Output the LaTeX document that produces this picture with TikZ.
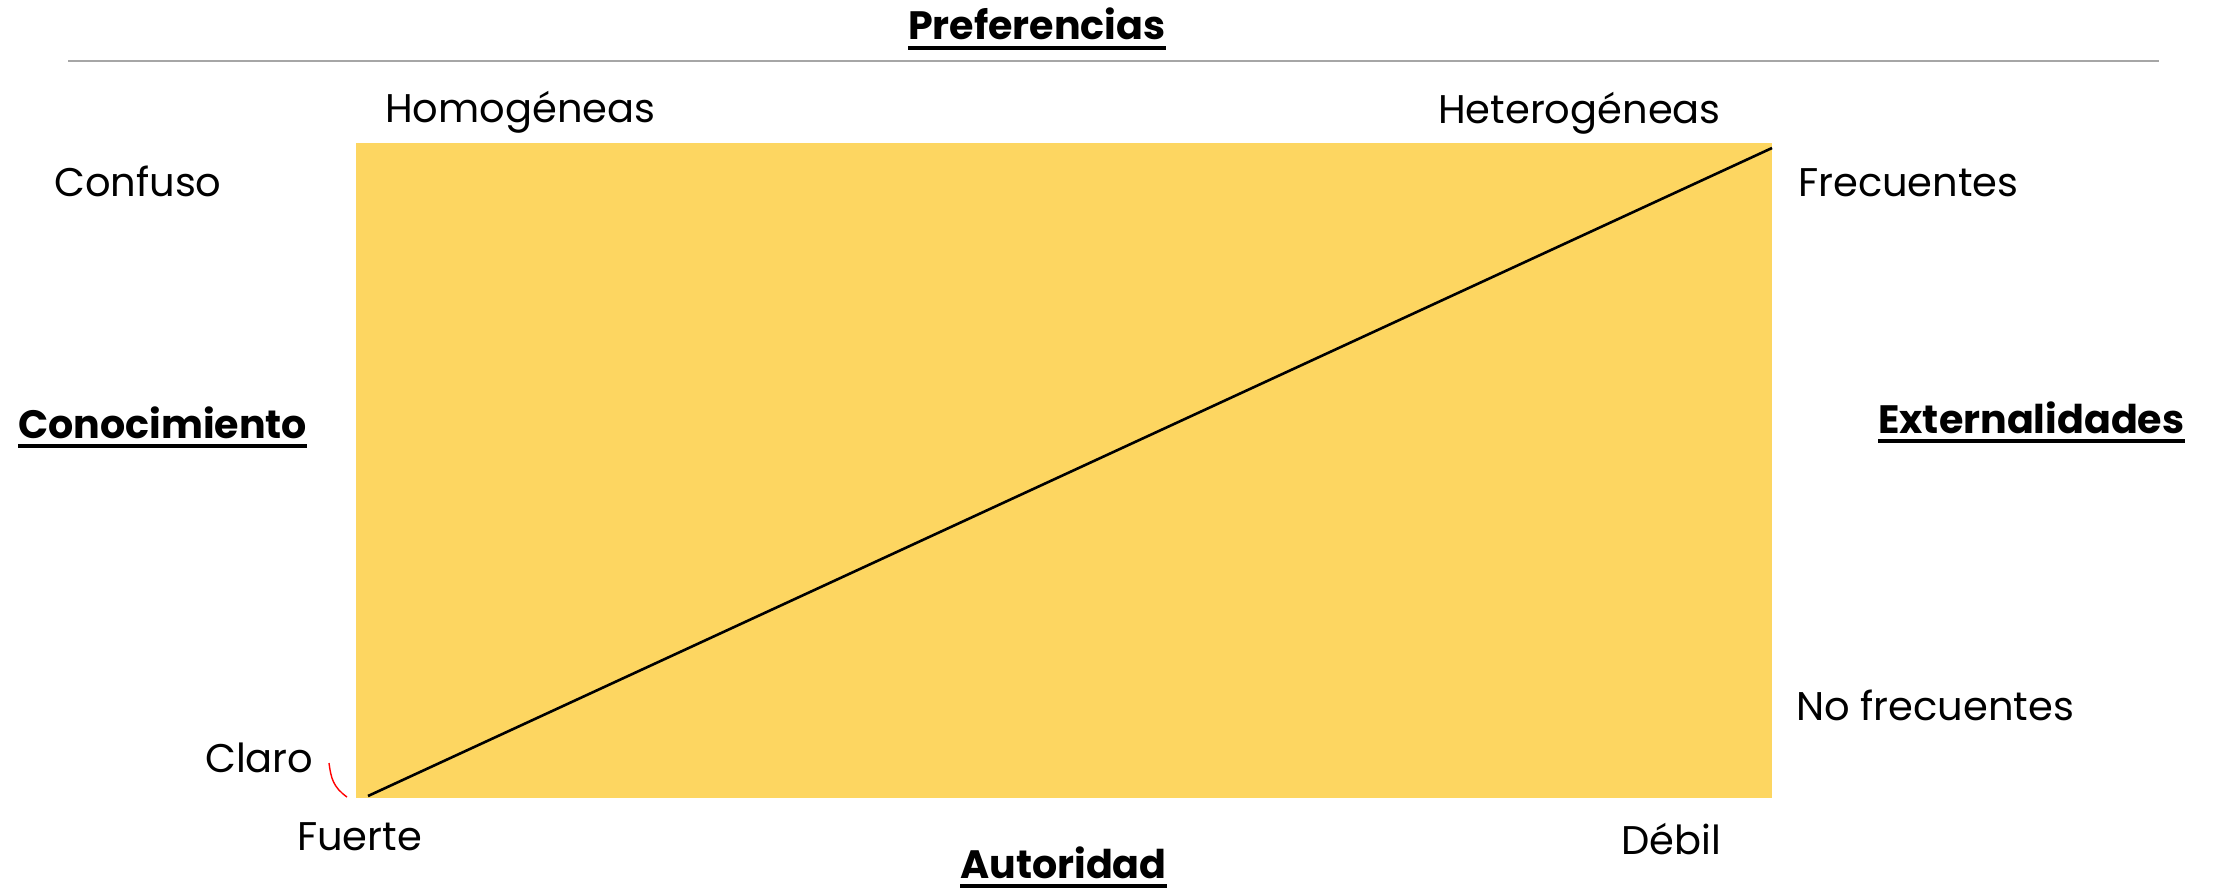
\documentclass[tikz,border=0pt]{standalone}
\usepackage{fontspec}
\setmainfont{Poppins}
\definecolor{boxyellow}{HTML}{FDD661}
\definecolor{rulegray}{HTML}{A6A6A6}
\tikzset{
  lbl/.style={anchor=base west, inner sep=0pt, font=\fontsize{40}{48}\selectfont},
  ttl/.style={anchor=base west, inner sep=0pt, font=\fontsize{39.6}{46}\selectfont\bfseries},
  uline/.style={line width=4.5pt, black},
}
\begin{document}
\begin{tikzpicture}[x=1pt,y=-1pt]
\useasboundingbox (0,0) rectangle (2216,891);
% yellow box
\fill[boxyellow] (356,143) rectangle (1772,798);
% top rule
\draw[rulegray, line width=2pt] (68,61) -- (2159,61);
% diagonal
\coordinate (dstart) at (368,796);
\coordinate (dend) at (1772,148);
\draw[line width=2.6pt] (dstart) -- (dend);
% red stroke
\coordinate (r1) at (329,763);
\coordinate (r2) at (347,797);
\draw[red, line width=1.4pt] (r1) .. controls (331,778) and (333,787) .. (r2);
% labels
\node[lbl] (homo) at (385,122) {Homogéneas};
\node[lbl] (hetero) at (1438,123) {Heterogéneas};
\node[lbl] (confuso) at (54,196) {Confuso};
\node[lbl] (frec) at (1798,196) {Frecuentes};
\node[lbl] (nofrec) at (1796,720) {No frecuentes};
\node[lbl] (claro) at (205,772) {Claro};
\node[lbl] (fuerte) at (297,850) {Fuerte};
\node[lbl] (debil) at (1621,854) {Débil};
% titles
\node[ttl] (pref) at (908,40) {Preferencias};
\node[ttl] (conoc) at (18,438) {Conocimiento};
\node[ttl] (ext) at (1878,433) {Externalidades};
\node[ttl] (auto) at (960,878) {Autoridad};
\foreach \n in {pref,conoc,ext,auto}{
  \draw[uline] ([yshift=-8pt]\n.base west) -- ([yshift=-8pt]\n.base east);
}
\end{tikzpicture}
\end{document}
